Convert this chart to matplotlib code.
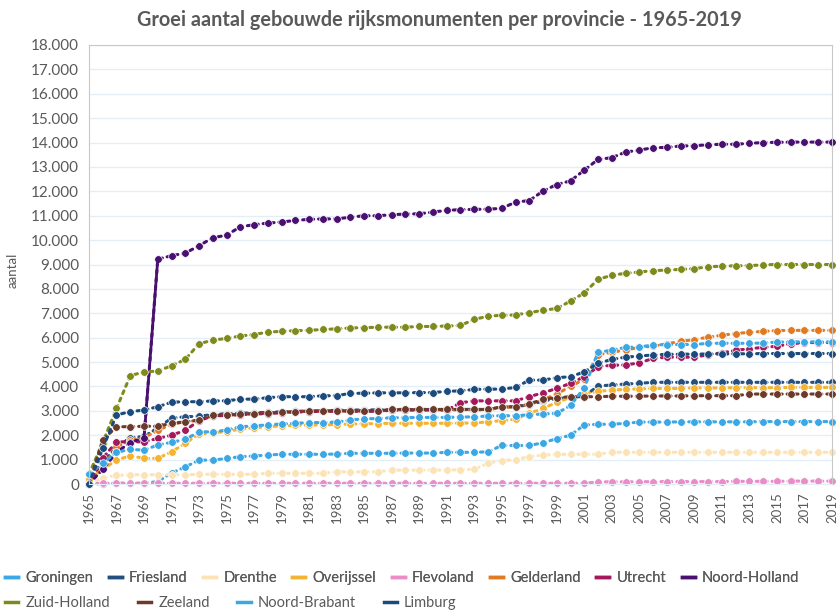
import numpy as np
import matplotlib
matplotlib.use("Agg")
import matplotlib.pyplot as plt
from matplotlib.lines import Line2D
from matplotlib.ticker import FuncFormatter

plt.rcParams['font.family'] = ['Lato', 'DejaVu Sans']

years = list(range(1965, 2020))

groningen = [0, 20, 30, 30, 30, 100, 450, 700, 980, 980,
             1050, 1120, 1150, 1190, 1220, 1220, 1220, 1220, 1230, 1260,
             1260, 1260, 1260, 1270, 1270, 1270, 1300, 1300, 1300, 1320,
             1580, 1580, 1580, 1690, 1860, 2000, 2420, 2450, 2450, 2490,
             2540, 2540, 2540, 2550, 2550, 2550, 2550, 2550, 2550, 2560,
             2560, 2560, 2560, 2560, 2560]
friesland = [0, 900, 1500, 1900, 1950, 2300, 2700, 2760, 2780, 2850,
             2880, 2900, 2920, 2940, 2960, 2980, 3000, 3010, 3020, 3030,
             3040, 3040, 3050, 3050, 3050, 3060, 3060, 3060, 3060, 3060,
             3150, 3170, 3250, 3400, 3500, 3550, 3600, 4020, 4060, 4100,
             4130, 4170, 4170, 4170, 4170, 4170, 4170, 4170, 4170, 4170,
             4170, 4170, 4170, 4170, 4170]
drenthe = [0, 250, 350, 380, 380, 380, 380, 380, 400, 400,
           400, 400, 400, 440, 440, 440, 440, 440, 500, 500,
           500, 500, 570, 570, 570, 570, 570, 590, 600, 850,
           960, 1000, 1120, 1190, 1220, 1220, 1220, 1220, 1300, 1300,
           1300, 1300, 1300, 1300, 1300, 1300, 1300, 1300, 1300, 1300,
           1300, 1300, 1300, 1300, 1300]
overijssel = [200, 600, 980, 1160, 1050, 1050, 1320, 1670, 2050, 2100,
              2150, 2250, 2300, 2350, 2380, 2400, 2420, 2420, 2440, 2460,
              2470, 2480, 2490, 2490, 2490, 2490, 2490, 2500, 2500, 2550,
              2600, 2650, 2900, 3100, 3350, 3550, 3700, 3800, 3850, 3880,
              3900, 3920, 3920, 3920, 3940, 3940, 3940, 3950, 3950, 3950,
              3950, 3960, 3960, 3960, 3960]
flevoland = [0] + [30] * 36 + [90, 90, 90, 95, 95, 100, 100, 100, 100, 100,
                               110, 110, 110, 110, 120, 120, 120, 120]
gelderland = [0, 700, 1500, 1800, 1900, 2200, 2450, 2550, 2620, 2800,
              2820, 2850, 2880, 2900, 2930, 2960, 2980, 2990, 2990, 2990,
              2990, 2990, 3040, 3040, 3040, 3040, 3040, 3040, 3040, 3040,
              3150, 3150, 3270, 3450, 3700, 4000, 4300, 5300, 5400, 5500,
              5600, 5650, 5750, 5850, 5920, 6020, 6100, 6170, 6220, 6260,
              6290, 6300, 6300, 6300, 6300]
utrecht = [0, 1060, 1730, 1730, 1730, 1870, 2000, 2200, 2600, 2790,
           2810, 2840, 2870, 2890, 2920, 2950, 2970, 2980, 2980, 2980,
           2980, 2980, 3030, 3030, 3030, 3030, 3030, 3330, 3410, 3410,
           3410, 3410, 3580, 3740, 3920, 4130, 4400, 4810, 4870, 4880,
           4970, 5150, 5200, 5200, 5200, 5300, 5380, 5480, 5550, 5600,
           5650, 5750, 5800, 5800, 5800]
noord_holland = [0, 600, 1300, 1700, 1900, 9220, 9360, 9470, 9770, 10100,
                 10200, 10550, 10630, 10700, 10740, 10810, 10850, 10870, 10870, 10940,
                 11000, 11000, 11040, 11070, 11080, 11150, 11220, 11250, 11260, 11270,
                 11300, 11560, 11620, 12010, 12280, 12430, 12870, 13310, 13380, 13610,
                 13690, 13790, 13800, 13860, 13870, 13910, 13930, 13930, 13970, 14000,
                 14010, 14020, 14020, 14020, 14020]
zuid_holland = [400, 1700, 3100, 4440, 4600, 4630, 4850, 5110, 5750, 5900,
                5970, 6070, 6130, 6230, 6260, 6290, 6300, 6340, 6360, 6400,
                6410, 6430, 6430, 6430, 6460, 6460, 6480, 6500, 6750, 6880,
                6920, 6930, 7030, 7120, 7200, 7500, 7840, 8390, 8560, 8640,
                8690, 8750, 8770, 8800, 8830, 8910, 8930, 8950, 8950, 8990,
                9000, 9000, 9000, 9000, 9000]
zeeland = [0, 1800, 2350, 2350, 2370, 2370, 2490, 2550, 2620, 2810,
           2830, 2860, 2890, 2910, 2940, 2970, 2990, 3000, 3000, 3000,
           3000, 3000, 3060, 3060, 3060, 3060, 3060, 3060, 3060, 3060,
           3170, 3170, 3280, 3480, 3540, 3580, 3580, 3580, 3600, 3600,
           3600, 3610, 3610, 3610, 3620, 3620, 3620, 3620, 3690, 3690,
           3690, 3690, 3690, 3690, 3690]
noord_brabant = [400, 850, 1300, 1420, 1390, 1600, 1710, 1830, 2140, 2140,
                 2210, 2350, 2380, 2430, 2460, 2490, 2520, 2520, 2540, 2620,
                 2680, 2680, 2720, 2720, 2730, 2730, 2730, 2750, 2750, 2790,
                 2800, 2800, 2840, 2870, 2900, 3220, 3950, 5400, 5490, 5600,
                 5620, 5700, 5720, 5720, 5720, 5770, 5770, 5770, 5770, 5780,
                 5820, 5830, 5830, 5830, 5830]
limburg = [0, 1460, 2830, 2970, 3030, 3170, 3350, 3380, 3370, 3410,
           3410, 3480, 3480, 3540, 3580, 3580, 3580, 3620, 3620, 3720,
           3720, 3740, 3740, 3740, 3750, 3750, 3800, 3820, 3880, 3890,
           3890, 3960, 4260, 4260, 4360, 4400, 4600, 4950, 5110, 5200,
           5250, 5290, 5320, 5320, 5330, 5330, 5330, 5340, 5340, 5350,
           5350, 5350, 5350, 5350, 5350]

names = ['Groningen', 'Friesland', 'Drenthe', 'Overijssel', 'Flevoland', 'Gelderland',
         'Utrecht', 'Noord-Holland', 'Zuid-Holland', 'Zeeland', 'Noord-Brabant', 'Limburg']
series = [groningen, friesland, drenthe, overijssel, flevoland, gelderland,
          utrecht, noord_holland, zuid_holland, zeeland, noord_brabant, limburg]
colors = ['#3ba7e5', '#24507f', '#fbe3b5', '#f3b433', '#e98cc8', '#e07b24',
          '#a3195b', '#4a1071', '#7e8b1c', '#6b3a2c', '#3ba7e5', '#1b4a7c']

fig = plt.figure(figsize=(8.37, 6.13), dpi=100)
ax = fig.add_axes([0.1063, 0.2104, 0.8877, 0.7162])

x = np.array(years)
for name, vals, c in zip(names, series, colors):
    y = np.array(vals)
    ax.plot(x, y, color=c, lw=2.2, ls=(0, (1, 1.6)), dash_capstyle='round',
            marker='o', ms=5.5, mec='white', mew=0.5, clip_on=False)
    # steep jumps show as a solid stroke
    for i in range(1, len(y)):
        if y[i] - y[i - 1] > 2000:
            ax.plot(x[i - 1:i + 1], y[i - 1:i + 1], color=c, lw=2, clip_on=False)

ax.set_xlim(1965, 2019)
ax.set_ylim(0, 18000)
ax.set_xticks(years[::2])
ax.set_xticklabels([str(v) for v in years[::2]], rotation=90)
ax.set_yticks(range(0, 18001, 1000))
ax.yaxis.set_major_formatter(FuncFormatter(lambda v, p: f"{int(v):,}".replace(',', '.')))
ax.tick_params(length=0, colors='#595959', labelsize=11)
ax.tick_params(axis='x', labelsize=9.5, pad=6)
ax.tick_params(axis='y', pad=7)
ax.grid(axis='y', color='#e2eef8', lw=1)
ax.set_axisbelow(True)
for s in ['left', 'top', 'right']:
    ax.spines[s].set_color('#c8c8c8')
ax.spines['bottom'].set_color('#e2eef8')
ax.set_ylabel('aantal', color='#595959', fontsize=9.5)
ax.yaxis.set_label_coords(-0.095, 0.487)

fig.text(0.525, 0.968, 'Groei aantal gebouwde rijksmonumenten per provincie - 1965-2019',
         ha='center', va='center', fontsize=14.3, fontweight='bold', color='#595959')

handles = [Line2D([0], [0], color=c, lw=2.5) for c in colors]
leg_kw = dict(frameon=False, fontsize=10.5, handlelength=0.9, handletextpad=0.5,
              labelcolor='#595959', borderaxespad=0, borderpad=0)
leg1 = fig.legend(handles[:8], names[:8], loc='center left', columnspacing=1.05,
                  bbox_to_anchor=(0.006, 1 - 578 / 613), ncol=8, **leg_kw)
fig.add_artist(leg1)
fig.legend(handles[8:], names[8:], loc='center left', columnspacing=1.9,
           bbox_to_anchor=(0.006, 1 - 603 / 613), ncol=4, **leg_kw)

fig.savefig('out.png', dpi=100)
